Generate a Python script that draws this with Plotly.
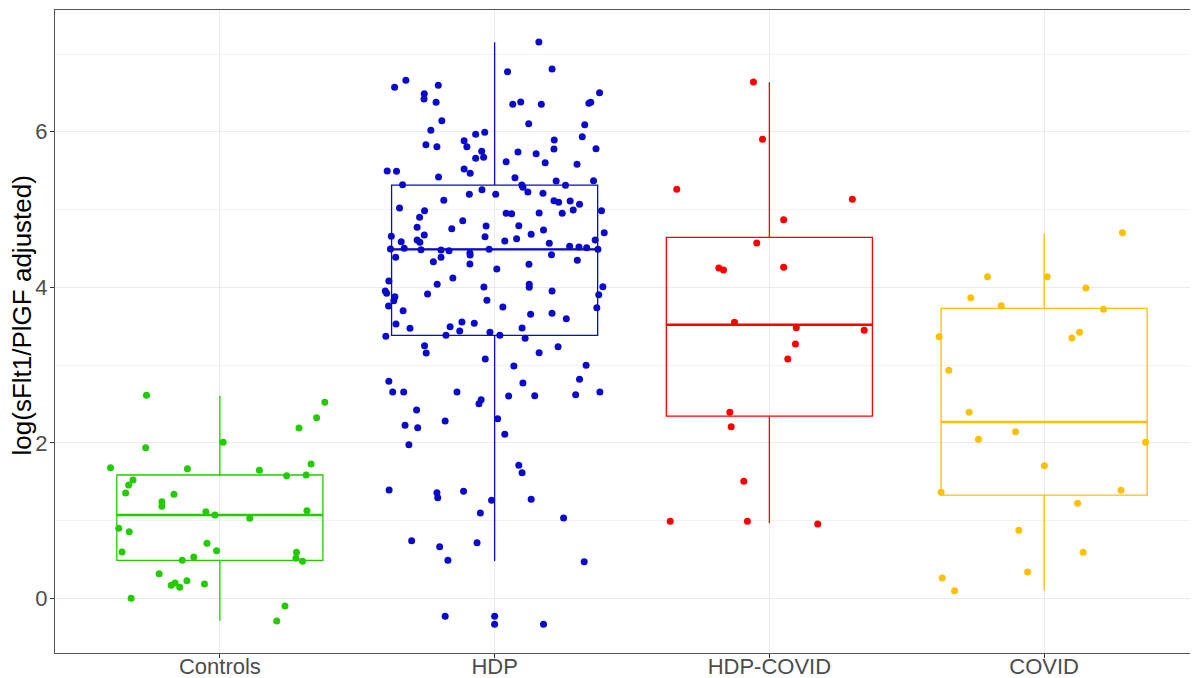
import plotly.graph_objects as go

categories = ["Controls", "HDP", "HDP-COVID", "COVID"]
colors = ["#22CC00", "#0A0ACC", "#FF0000", "#FFC000"]

# box statistics
box_lower = [-0.288, 0.48, 0.964, 0.098]
box_q1 = [0.489, 3.382, 2.344, 1.328]
box_median = [1.071, 4.488, 3.519, 2.267]
box_q3 = [1.586, 5.315, 4.643, 3.729]
box_upper = [2.606, 7.15, 6.636, 4.694]

# jittered points: value and horizontal jitter (category units)
controls_y = [2.611, 2.521, 2.323, 2.190, 2.006, 1.937, 1.680, 1.667, 1.646, 1.727,
              1.577, 1.586, 1.521, 1.457, 1.354, 1.337, 1.242, 1.183, 1.114, 1.071,
              1.029, 1.127, 0.900, 0.856, 0.707, 0.612, 0.595, 0.592, 0.514, 0.476,
              0.531, 0.489, 0.316, 0.197, 0.167, 0.141, 0.226, 0.184, 0.000, -0.099,
              -0.292]
controls_dx = [-0.267, 0.382, 0.352, 0.288, 0.012, -0.270, -0.398, -0.118, 0.144, 0.332,
               0.243, 0.314, -0.316, -0.332, -0.343, -0.167, -0.211, -0.211, -0.051, -0.018,
               0.109, 0.317, -0.368, -0.330, -0.047, -0.012, -0.356, 0.279, 0.277, 0.301,
               -0.095, -0.137, -0.221, -0.163, -0.177, -0.146, -0.120, -0.056, -0.323, 0.237,
               0.207]

hdp_y = [7.154, 6.772, 6.807, 6.661, 6.572, 6.597, 6.489, 6.421, 6.379, 6.502,
         6.366, 6.379, 6.353, 6.382, 6.353, 6.142, 6.103, 6.091, 6.019, 5.993,
         5.967, 5.885, 5.894, 5.936, 5.833, 5.808, 5.808, 5.778, 5.782, 5.740,
         5.718, 5.749, 5.659, 5.671, 5.615, 5.602, 5.581, 5.495, 5.491, 5.521,
         5.466, 5.418, 5.409, 5.315, 5.286, 5.366, 5.311, 5.370, 5.319, 5.225,
         5.208, 5.255, 5.196, 5.196, 5.118, 5.113, 5.093, 5.109, 5.067, 5.019,
         4.985, 4.900, 4.951, 4.946, 4.955, 4.951, 4.994, 4.985, 4.856,
         4.771, 4.753, 4.788, 4.792, 4.736, 4.655, 4.586, 4.608, 4.578, 4.672,
         4.650, 4.595, 4.624, 4.681, 4.565, 4.608, 4.702, 4.492, 4.501, 4.483,
         4.479, 4.470, 4.441, 4.488, 4.527, 4.518, 4.509, 4.488, 4.385, 4.385,
         4.329, 4.415, 4.299, 4.419, 4.347, 4.295, 4.235, 4.119, 4.081, 4.038,
         4.038, 4.000, 4.003, 4.007, 3.952, 3.922, 3.913, 3.952, 3.904, 3.879,
         3.827, 3.832, 3.759, 3.746, 3.737, 3.699, 3.652, 3.665, 3.596, 3.527,
         3.472, 3.493, 3.553, 3.537, 3.437, 3.382, 3.421, 3.382, 3.476, 3.344,
         3.369, 3.248, 3.155, 3.077, 3.158, 3.236, 2.987, 2.996, 2.816, 2.791,
         2.769, 2.653, 2.653, 2.653, 2.602, 2.606, 2.618, 2.653, 2.554, 2.503,
         2.422, 2.280, 2.310, 2.225, 2.194,
         2.109, 1.975, 1.710, 1.615, 1.393, 1.358, 1.294, 1.376, 1.260, 1.273,
         1.097, 1.033, 0.741, 0.664, 0.715, 0.489, 0.471, -0.231, -0.231, -0.334,
         -0.334]
hdp_dx = [0.161, 0.047, 0.209, -0.323, -0.364, -0.205, -0.256, -0.257, -0.213, 0.382,
          0.343, 0.350, 0.066, 0.095, 0.170, -0.192, 0.124, 0.328, -0.232, -0.036,
          -0.069, -0.111, 0.217, 0.319, -0.250, -0.210, -0.101, 0.216, 0.369, 0.085,
          0.151, -0.047, -0.069, -0.040, 0.042, 0.184, 0.300, -0.391, -0.357, -0.111,
          -0.089, -0.204, 0.074, 0.099, 0.103, 0.224, 0.258, 0.360, -0.335, 0.121,
          0.176, -0.046, 0.004, -0.092, -0.185, 0.216, 0.233, 0.275, 0.309, -0.346,
          -0.255, -0.273, 0.042, 0.062, 0.162, 0.246, 0.286, 0.389, -0.116,
          -0.282, -0.156, -0.031, 0.088, 0.178, -0.376, -0.340, -0.282, -0.272, -0.256,
          -0.035, 0.037, 0.080, 0.133, 0.199, 0.366, 0.399, -0.379, -0.329, -0.268,
          -0.195, -0.166, -0.090, -0.020, 0.273, 0.307, 0.335, 0.376, -0.360, -0.195,
          -0.223, -0.089, -0.090, 0.207, 0.301, 0.125, 0.008, -0.152, -0.385, -0.209,
          0.126, 0.126, -0.039, 0.394, -0.398, -0.393, -0.244, 0.209, 0.379, -0.363,
          -0.367, -0.028, -0.386, 0.030, 0.372, -0.333, 0.131, 0.209, 0.261, -0.359,
          -0.308, -0.162, -0.119, -0.074, -0.127, -0.177, -0.017, 0.019, 0.100, 0.111,
          -0.396, -0.255, -0.249, -0.034, 0.162, 0.231, 0.070, 0.333, 0.309, -0.385,
          0.103, -0.371, -0.331, -0.137, 0.051, 0.146, 0.295, 0.383, -0.049, -0.057,
          -0.284, -0.180, 0.011, -0.326, -0.280,
          0.037, -0.312, 0.088, 0.100, -0.384, -0.210, -0.207, -0.113, -0.011, 0.133,
          -0.052, 0.251, -0.302, -0.200, -0.064, -0.170, 0.326, -0.180, 0.000, 0.000,
          0.178]

hdpcovid_y = [6.640, 5.903, 5.260, 5.131, 4.869, 4.569, 4.248, 4.222, 4.257, 3.549,
              3.480, 3.447, 3.270, 3.077, 2.392, 2.207, 1.505, 0.990, 0.990, 0.955]
hdpcovid_dx = [-0.058, -0.025, -0.337, 0.302, 0.052, -0.046, -0.184, -0.167, 0.052, -0.127,
               0.098, 0.345, 0.095, 0.067, -0.144, -0.139, -0.093, -0.361, -0.080, 0.176]

covid_y = [4.702, 4.136, 4.136, 3.990, 3.866, 3.763, 3.717, 3.421, 3.347, 3.364,
           2.932, 2.392, 2.143, 2.045, 2.006, 1.705, 1.363, 1.389, 1.222, 0.874,
           0.592, 0.338, 0.261, 0.098]
covid_dx = [0.285, -0.206, 0.011, 0.152, -0.267, -0.156, 0.216, 0.129, 0.101, -0.382,
            -0.347, -0.273, -0.104, -0.239, 0.369, 0.001, -0.375, 0.280, 0.122, -0.092,
            0.142, -0.060, -0.371, -0.326]

y_ticks = [0, 2, 4, 6]
y_title = "log(sFlt1/PlGF adjusted)"

points_y = [controls_y, hdp_y, hdpcovid_y, covid_y]
points_dx = [controls_dx, hdp_dx, hdpcovid_dx, covid_dx]

BOX_W = 0.75
fig = go.Figure()

for i, cat in enumerate(categories):
    fig.add_trace(go.Box(
        x=[i], q1=[box_q1[i]], median=[box_median[i]], q3=[box_q3[i]],
        lowerfence=[box_lower[i]], upperfence=[box_upper[i]],
        width=BOX_W, whiskerwidth=0, boxpoints=False,
        line=dict(color=colors[i], width=1.3), fillcolor="rgba(255,255,255,0)",
        showlegend=False, hoverinfo="skip", name=cat))
    # thicker median line, as in ggplot
    fig.add_trace(go.Scatter(
        x=[i - BOX_W / 2, i + BOX_W / 2], y=[box_median[i], box_median[i]],
        mode="lines", line=dict(color=colors[i], width=2.4),
        showlegend=False, hoverinfo="skip"))

for i, cat in enumerate(categories):
    fig.add_trace(go.Scatter(
        x=[i + d for d in points_dx[i]], y=points_y[i], mode="markers",
        marker=dict(color=colors[i], size=7, line=dict(width=0)),
        showlegend=False, name=cat))

grid_col = "#EBEBEB"
# the page body has an 8px margin; the figure is sized so the panel lands where it should
fig.update_layout(
    width=1190, height=670,
    margin=dict(l=47, r=0, t=2, b=25),
    paper_bgcolor="white", plot_bgcolor="white",
    font=dict(family="Liberation Sans, Arial, sans-serif"),
    xaxis=dict(
        range=[-0.6, 3.56], tickvals=list(range(len(categories))), ticktext=categories,
        showgrid=True, gridcolor=grid_col, gridwidth=1.1,
        showline=True, linecolor="#555555", linewidth=1, mirror=True,
        ticks="outside", ticklen=4, tickcolor="#333333", ticklabelstandoff=-10,
        tickfont=dict(size=22, color="#4D4D4D"), zeroline=False, automargin=False),
    yaxis=dict(
        range=[-0.703, 7.566], tickvals=y_ticks,
        showgrid=True, gridcolor=grid_col, gridwidth=1.1,
        minor=dict(dtick=1, tick0=0, showgrid=True, gridcolor="#F2F2F2", gridwidth=0.6),
        showline=True, linecolor="#555555", linewidth=1, mirror=False,
        ticks="outside", ticklen=4, tickcolor="#333333", ticklabelstandoff=-2,
        tickfont=dict(size=22, color="#4D4D4D"), zeroline=False, automargin=False),
    annotations=[dict(
        text=y_title, textangle=-90, xref="paper", yref="paper",
        x=0, y=0.525, xanchor="center", yanchor="middle", xshift=-33,
        showarrow=False, font=dict(size=26, color="black"))],
)

fig.write_html("out.html")
